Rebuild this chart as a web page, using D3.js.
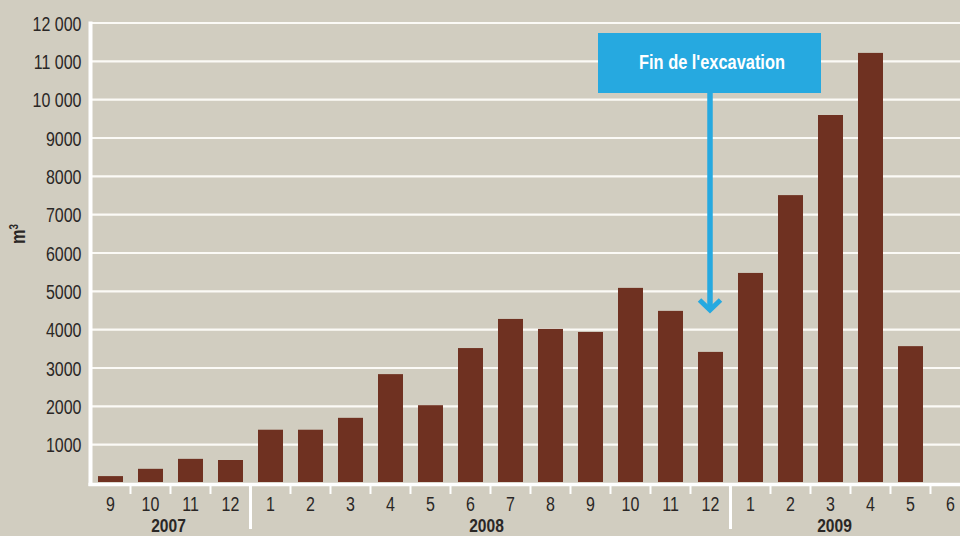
<!DOCTYPE html>
<html>
<head>
<meta charset="utf-8">
<script src="https://cdn.jsdelivr.net/npm/d3@7"></script>
<style>
  html, body { margin: 0; padding: 0; background: #d1cdc0; }
  svg { display: block; }
  text { font-family: "Liberation Sans", Arial, sans-serif; fill: #2a2726; }
</style>
</head>
<body>
<svg id="chart" width="960" height="536"></svg>
<script>
// months, Sept 2007 -> June 2009
const months = ["9", "10", "11", "12",
  "1", "2", "3", "4", "5", "6", "7", "8", "9", "10", "11", "12",
  "1", "2", "3", "4", "5", "6"];
const years = ["2007", "2007", "2007", "2007",
  "2008", "2008", "2008", "2008", "2008", "2008", "2008", "2008", "2008", "2008", "2008", "2008",
  "2009", "2009", "2009", "2009", "2009", "2009"];
// volume excavated per month, m3
const volumes = [180, 370, 630, 600,
  1390, 1390, 1700, 2840, 2030, 3520, 4280, 4020, 3940, 5090, 4490, 3420,
  5480, 7510, 9600, 11220, 3570, null];
const yTicks = [1000, 2000, 3000, 4000, 5000, 6000, 7000, 8000, 9000, 10000, 11000, 12000];
// year label sits on this slot position (fractional index into months)
const yearLabels = ["2007", "2008", "2009"];
const yearLabelAt = [1.45, 9.4, 18.1];
const annotation = "Fin de l'excavation";
const annotationMonth = 15; // 12/2008
const annotationTip = 4460;

const keys = months.map((m, i) => years[i] + "-" + m);
const NARROW = 0.82; // the original uses a condensed face

const svg = d3.select("#chart");
const x = d3.scaleBand().domain(keys).range([90.5, 90.5 + 40 * keys.length]).paddingInner(0.375).paddingOuter(0.1875);
const y = d3.scaleLinear().domain([0, 12000]).range([483, 23]);
const step = x.step();
const slotX = (i) => x.range()[0] + step * (i + 0.5);

const fmt = (d) => d >= 10000 ? d3.format(",")(d).replace(",", " ") : String(d);

function condense(sel) {
  sel.each(function () {
    const t = d3.select(this);
    const x0 = +t.attr("x") || 0;
    const pre = t.attr("data-pre") || "";
    t.attr("x", x0 / NARROW).attr("transform", `${pre} scale(${NARROW},1)`);
  });
}

// gridlines
svg.append("g")
  .selectAll("line")
  .data(yTicks)
  .join("line")
  .attr("x1", 92).attr("x2", 960)
  .attr("y1", (d) => y(d)).attr("y2", (d) => y(d))
  .attr("stroke", "#fbfaf6").attr("stroke-width", 2.2);

// bars
svg.append("g")
  .selectAll("rect")
  .data(keys.filter((k, i) => volumes[i] != null))
  .join("rect")
  .attr("x", (k) => x(k))
  .attr("width", x.bandwidth())
  .attr("y", (k) => y(volumes[keys.indexOf(k)]))
  .attr("height", (k) => y(0) - 1 - y(volumes[keys.indexOf(k)]))
  .attr("fill", "#6f3121");

// y axis
const yAxis = svg.append("g").attr("transform", "translate(90.5,0)")
  .call(d3.axisLeft(y).tickValues(yTicks).tickFormat(fmt).tickSize(0).tickPadding(9));
yAxis.select(".domain").remove();
yAxis.selectAll("text").attr("font-size", 19.5).attr("dy", "0.36em")
  .style("font-family", "'Liberation Sans', Arial, sans-serif").attr("fill", "#2a2726")
  .call(condense);
svg.append("line").attr("x1", 90.5).attr("x2", 90.5).attr("y1", 21.5).attr("y2", 486)
  .attr("stroke", "#fff").attr("stroke-width", 4);

// x axis
svg.append("line").attr("x1", 88.5).attr("x2", 960).attr("y1", 484.5).attr("y2", 484.5)
  .attr("stroke", "#fff").attr("stroke-width", 3.5);
const xAxis = svg.append("g").attr("transform", "translate(0,486)")
  .call(d3.axisBottom(x).tickFormat((k, i) => months[i]).tickSize(0).tickPadding(11));
xAxis.select(".domain").remove();
xAxis.selectAll("text").attr("font-size", 19.5).attr("dy", "0.71em")
  .style("font-family", "'Liberation Sans', Arial, sans-serif").attr("fill", "#2a2726")
  .call(condense);

// separators between months, long ones between years
const bounds = d3.range(1, keys.length);
svg.append("g")
  .selectAll("line")
  .data(bounds)
  .join("line")
  .attr("x1", (i) => x.range()[0] + step * i)
  .attr("x2", (i) => x.range()[0] + step * i)
  .attr("y1", 486)
  .attr("y2", (i) => years[i] !== years[i - 1] ? 529 : 494)
  .attr("stroke", "#fff")
  .attr("stroke-width", (i) => years[i] !== years[i - 1] ? 3 : 2);

svg.append("g")
  .selectAll("text")
  .data(yearLabels)
  .join("text")
  .attr("x", (d, i) => slotX(yearLabelAt[i]))
  .attr("y", 532)
  .attr("text-anchor", "middle")
  .attr("font-size", 19)
  .attr("font-weight", "bold")
  .text((d) => d)
  .call(condense);

// y label
svg.append("text")
  .attr("data-pre", "translate(25,234) rotate(-90)")
  .attr("text-anchor", "middle")
  .attr("font-size", 20)
  .attr("font-weight", "bold")
  .html('m<tspan dy="-7" font-size="12">3</tspan>')
  .call(condense);

// annotation
const ax = x(keys[annotationMonth]) + x.bandwidth() / 2 - 0.5;
const tipY = y(annotationTip);
const ann = svg.append("g");
ann.append("rect").attr("x", ax - 112).attr("y", 33).attr("width", 223).attr("height", 60).attr("fill", "#26a9e0");
ann.append("text").attr("x", ax + 2).attr("y", 69.5).attr("text-anchor", "middle")
  .attr("font-size", 20).attr("font-weight", "bold").style("fill", "#fff")
  .text(annotation)
  .call(condense);
ann.append("line").attr("x1", ax).attr("x2", ax).attr("y1", 93).attr("y2", tipY - 2)
  .attr("stroke", "#26a9e0").attr("stroke-width", 5.5);
ann.append("path")
  .attr("d", `M${ax - 10.5},${tipY - 12}L${ax},${tipY - 2}L${ax + 10.5},${tipY - 12}`)
  .attr("fill", "none").attr("stroke", "#26a9e0").attr("stroke-width", 5);
</script>
</body>
</html>
